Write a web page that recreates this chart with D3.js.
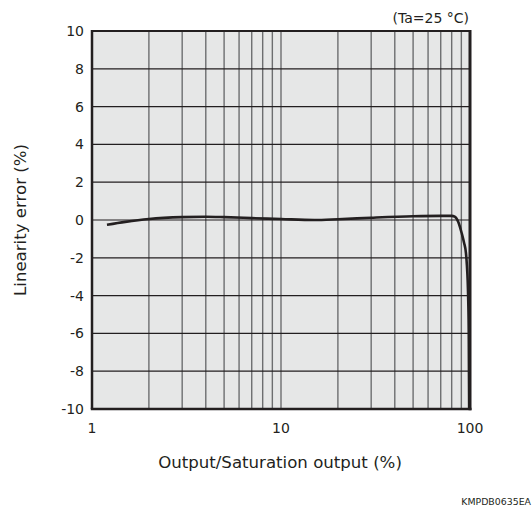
<!DOCTYPE html>
<html>
<head>
<meta charset="utf-8">
<script src="https://cdn.jsdelivr.net/npm/d3@7"></script>
<style>
  html, body { margin: 0; padding: 0; background: #fff; }
  svg { display: block; }
  text { font-family: "DejaVu Sans", Verdana, sans-serif; fill: #231f20; }
</style>
</head>
<body>
<svg id="chart" width="532" height="508"></svg>
<script>
// Linearity error vs. output / saturation output (log scale)
const outputPct = [1.2, 1.5, 2, 3, 4, 5, 7, 10, 15, 20, 30, 50, 70, 80, 83, 86.7, 90.4, 93, 95.2, 96.3, 97.2, 97.9, 98.5, 99];
const linearityErr = [-0.25, -0.1, 0.05, 0.15, 0.17, 0.15, 0.1, 0.05, 0.0, 0.04, 0.12, 0.2, 0.22, 0.22, 0.18, -0.1, -0.7, -1.2, -1.75, -2.4, -3.2, -4.3, -6, -10];

const yTicks = [-10, -8, -6, -4, -2, 0, 2, 4, 6, 8, 10];
const xTickLabels = [1, 10, 100];
const xGrid = [2, 3, 4, 5, 6, 7, 8, 9, 10, 20, 30, 40, 50, 60, 70, 80, 90];

const svg = d3.select("#chart");
const plotL = 92, plotR = 470, plotT = 31, plotB = 409;
const ink = "#231f20";

const x = d3.scaleLog().domain([1, 100]).range([plotL, plotR]);
const y = d3.scaleLinear().domain([-10, 10]).range([plotB, plotT]);

// plot background
svg.append("rect")
  .attr("x", plotL).attr("y", plotT)
  .attr("width", plotR - plotL).attr("height", plotB - plotT)
  .attr("fill", "#e6e7e7");

// vertical grid (log divisions)
svg.append("g").selectAll("line").data(xGrid).join("line")
  .attr("x1", d => x(d)).attr("x2", d => x(d))
  .attr("y1", plotT).attr("y2", plotB)
  .attr("stroke", "#6d6e70").attr("stroke-width", 1.4);

// horizontal grid
svg.append("g").selectAll("line").data(yTicks.slice(1, -1)).join("line")
  .attr("x1", plotL).attr("x2", plotR)
  .attr("y1", d => y(d)).attr("y2", d => y(d))
  .attr("stroke", ink).attr("stroke-width", 1.2);

// frame
svg.append("line").attr("x1", plotL).attr("x2", plotR).attr("y1", plotT).attr("y2", plotT)
  .attr("stroke", ink).attr("stroke-width", 1.8);
svg.append("line").attr("x1", plotL - 1.2).attr("x2", plotR + 1.5).attr("y1", plotB).attr("y2", plotB)
  .attr("stroke", ink).attr("stroke-width", 2.5);
svg.append("line").attr("x1", plotL).attr("x2", plotL).attr("y1", plotT - 0.9).attr("y2", plotB)
  .attr("stroke", ink).attr("stroke-width", 2.5);
svg.append("line").attr("x1", plotR).attr("x2", plotR).attr("y1", plotT - 0.9).attr("y2", plotB + 1.2)
  .attr("stroke", ink).attr("stroke-width", 3);

// y tick labels
svg.append("g").selectAll("text").data(yTicks).join("text")
  .attr("x", 84).attr("y", d => y(d) + 5)
  .attr("text-anchor", "end")
  .attr("font-size", 14)
  .text(d => d);

// x tick labels
svg.append("g").selectAll("text").data(xTickLabels).join("text")
  .attr("x", d => x(d)).attr("y", 433)
  .attr("text-anchor", "middle")
  .attr("font-size", 14)
  .text(d => d);

// curve
const line = d3.line()
  .x((d, i) => x(outputPct[i]))
  .y(d => y(d))
  .curve(d3.curveMonotoneX);
svg.append("path")
  .attr("d", line(linearityErr))
  .attr("fill", "none")
  .attr("stroke", ink)
  .attr("stroke-width", 2.6)
  .attr("stroke-linejoin", "round");

// axis titles and notes
svg.append("text")
  .attr("x", 280).attr("y", 468)
  .attr("text-anchor", "middle").attr("font-size", 16.6)
  .text("Output/Saturation output (%)");

svg.append("text")
  .attr("transform", "translate(26,220) rotate(-90)")
  .attr("text-anchor", "middle").attr("font-size", 16.6)
  .text("Linearity error (%)");

svg.append("text")
  .attr("x", 469).attr("y", 23)
  .attr("text-anchor", "end").attr("font-size", 14)
  .text("(Ta=25 °C)");

svg.append("text")
  .attr("x", 531).attr("y", 505)
  .attr("text-anchor", "end")
  .attr("font-size", 9.4)
  .text("KMPDB0635EA");
</script>
</body>
</html>
